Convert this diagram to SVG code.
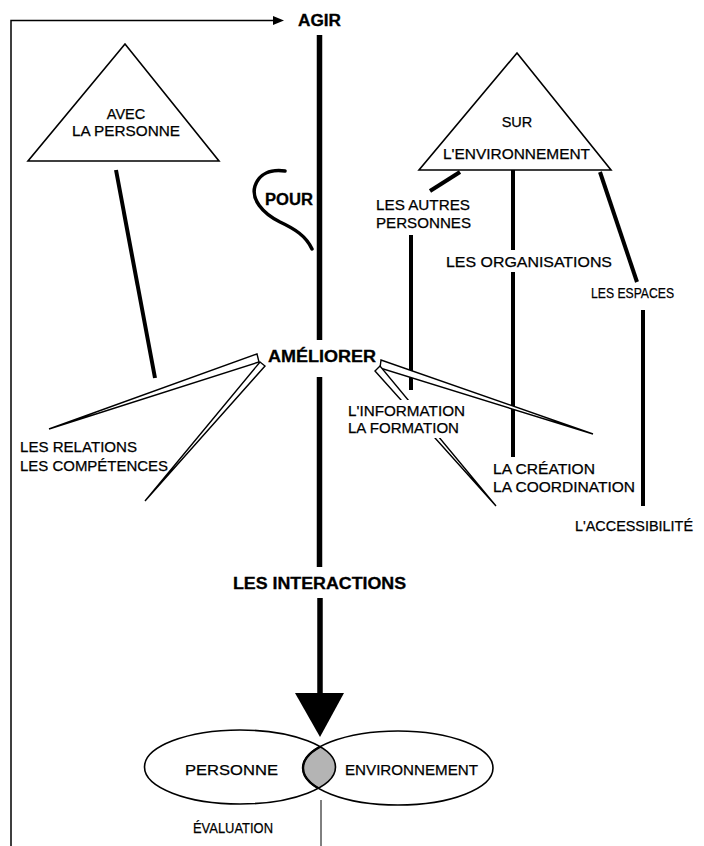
<svg xmlns="http://www.w3.org/2000/svg" width="704" height="846" viewBox="0 0 704 846">
<style>
text{font-family:"Liberation Sans",Arial,sans-serif;fill:#000}
.b{font-weight:bold;font-size:16px;stroke:#000;stroke-width:0.3}
.r{font-size:14.5px;stroke:#000;stroke-width:0.25}
.thin{fill:none;stroke:#000;stroke-width:1.5}
.thick{fill:none;stroke:#000;stroke-width:4;stroke-linecap:butt}
.main{fill:none;stroke:#000;stroke-width:5.5}
.wedge{fill:#fff;stroke:#000;stroke-width:1.4;stroke-linejoin:miter}
.tri{fill:#fff;stroke:#000;stroke-width:1.6}
.ell{fill:none;stroke:#000;stroke-width:1.6}
</style>
<defs>
<clipPath id="clipL"><ellipse cx="240" cy="767" rx="95.5" ry="37"/></clipPath>
</defs>
<rect width="704" height="846" fill="#fff"/>

<g id="connectors">
<path class="thin" d="M11,846 V20.5 H275"/>
<polygon points="273,16 284,20.5 273,25" fill="#000"/>
<line class="main" x1="319.5" y1="35" x2="319.5" y2="340"/>
<line class="main" x1="319.5" y1="377" x2="319.5" y2="567"/>
<line class="main" x1="320" y1="598" x2="320" y2="696"/>
<polygon points="295,693 344,693 320,737" fill="#000"/>
<line x1="321" y1="800" x2="321" y2="846" stroke="#000" stroke-width="1"/>
<line class="thick" x1="116" y1="170" x2="155" y2="378" stroke-width="3.5"/>
<path d="M285,171 C270,169 259,174 255,186 C251,199 262,213 280,222 C295,229 306,236 312,249" fill="none" stroke="#000" stroke-width="3.5" stroke-linecap="round"/>
<line class="thick" x1="460" y1="172" x2="430" y2="191"/>
<line class="thick" x1="513" y1="170" x2="513" y2="250"/>
<line class="thick" x1="513" y1="272" x2="513" y2="457"/>
<line class="thick" x1="600" y1="172" x2="637" y2="282"/>
<line class="thick" x1="643" y1="310" x2="643" y2="506"/>
<line class="thick" x1="411" y1="235" x2="411" y2="390"/>
<polygon class="wedge" points="257,354 259,362 49,429"/>
<polygon class="wedge" points="260,362 265,366 145,501"/>
<polygon class="wedge" points="381,360 380,368 593,434"/>
<polygon class="wedge" points="375,371 380,366 496,506"/>
<rect x="346" y="400" width="122" height="38" fill="#fff"/>
</g>

<g id="agir"><text class="b" x="298" y="26" textLength="43" lengthAdjust="spacingAndGlyphs">AGIR</text></g>

<g id="avec-la-personne">
<polygon class="tri" points="125,44 28,161 219,161"/>
<text class="r" x="126" y="119" text-anchor="middle">AVEC</text>
<text class="r" x="72" y="136" textLength="108" lengthAdjust="spacingAndGlyphs">LA PERSONNE</text>
</g>

<g id="sur-environnement">
<polygon class="tri" points="517,53 419,170 611,170"/>
<text class="r" x="517" y="127" text-anchor="middle">SUR</text>
<text class="r" x="443" y="159" textLength="147" lengthAdjust="spacingAndGlyphs">L'ENVIRONNEMENT</text>
</g>

<g id="pour"><text class="b" x="265" y="205" textLength="48" lengthAdjust="spacingAndGlyphs">POUR</text></g>

<g id="autres-personnes">
<text class="r" x="376" y="210" textLength="94" lengthAdjust="spacingAndGlyphs">LES AUTRES</text>
<text class="r" x="376" y="228" textLength="95" lengthAdjust="spacingAndGlyphs">PERSONNES</text>
</g>

<g id="organisations"><text class="r" x="446" y="267" textLength="166" lengthAdjust="spacingAndGlyphs">LES ORGANISATIONS</text></g>

<g id="espaces"><text class="r" x="591" y="298" textLength="83" lengthAdjust="spacingAndGlyphs" style="font-size:14px">LES ESPACES</text></g>

<g id="ameliorer"><text class="b" x="268" y="362" textLength="108" lengthAdjust="spacingAndGlyphs">AMÉLIORER</text></g>

<g id="information">
<text class="r" x="348" y="416" textLength="117" lengthAdjust="spacingAndGlyphs">L'INFORMATION</text>
<text class="r" x="348" y="433" textLength="111" lengthAdjust="spacingAndGlyphs">LA FORMATION</text>
</g>

<g id="relations">
<text class="r" x="20" y="452" textLength="117" lengthAdjust="spacingAndGlyphs">LES RELATIONS</text>
<text class="r" x="20" y="471" textLength="148" lengthAdjust="spacingAndGlyphs">LES COMPÉTENCES</text>
</g>

<g id="creation">
<text class="r" x="493" y="474" textLength="102" lengthAdjust="spacingAndGlyphs">LA CRÉATION</text>
<text class="r" x="493" y="492" textLength="142" lengthAdjust="spacingAndGlyphs">LA COORDINATION</text>
</g>

<g id="accessibilite"><text class="r" x="575" y="531" textLength="118" lengthAdjust="spacingAndGlyphs">L'ACCESSIBILITÉ</text></g>

<g id="interactions"><text class="b" x="233" y="589" textLength="173" lengthAdjust="spacingAndGlyphs">LES INTERACTIONS</text></g>

<g id="personne-environnement">
<ellipse cx="398" cy="768" rx="95" ry="37" fill="#b4b4b4" stroke="#000" stroke-width="2.4" clip-path="url(#clipL)"/>
<ellipse class="ell" cx="240" cy="767" rx="95.5" ry="37"/>
<ellipse class="ell" cx="398" cy="768" rx="95" ry="37"/>
<text class="r" x="185" y="775" textLength="93" lengthAdjust="spacingAndGlyphs">PERSONNE</text>
<text class="r" x="345" y="775" textLength="133" lengthAdjust="spacingAndGlyphs">ENVIRONNEMENT</text>
</g>

<g id="evaluation"><text class="r" x="193" y="833" textLength="80" lengthAdjust="spacingAndGlyphs">ÉVALUATION</text></g>
</svg>
